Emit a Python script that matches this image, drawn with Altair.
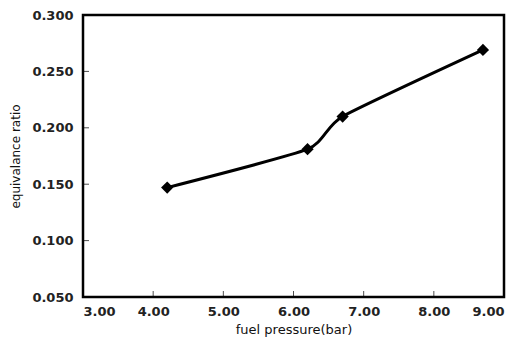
import altair as alt
import pandas as pd

pressure = [4.2, 6.2, 6.7, 8.7]
ratio = [0.147, 0.181, 0.210, 0.269]
x_ticks = [3, 4, 5, 6, 7, 8, 9]
y_ticks = [0.05, 0.10, 0.15, 0.20, 0.25, 0.30]

df = pd.DataFrame({"p": pressure, "r": ratio})
xt = pd.DataFrame({"v": x_ticks})
yt = pd.DataFrame({"v": y_ticks})

W, H = 421, 282
xs = alt.Scale(domain=[3, 9], nice=False, zero=False)
ys = alt.Scale(domain=[0.05, 0.30], nice=False, zero=False)

xaxis = alt.Axis(title="fuel pressure(bar)", values=x_ticks, format=".2f", grid=False,
                 ticks=False, domain=False, labelPadding=8, titlePadding=5,
                 labelFont="DejaVu Sans", labelFontSize=13, labelFontWeight="bold", labelColor="#222",
                 titleFont="DejaVu Sans", titleFontSize=13, titleFontWeight="normal",
                 titleColor="#111")
yaxis = alt.Axis(title="equivalance ratio", values=y_ticks, format=".3f", grid=False,
                 ticks=False, domain=False, labelPadding=10, titlePadding=9,
                 labelFont="DejaVu Sans", labelFontSize=13, labelFontWeight="bold", labelColor="#222",
                 titleFont="DejaVu Sans", titleFontSize=12, titleFontWeight="normal",
                 titleColor="#111")

line = alt.Chart(df).mark_line(interpolate="cardinal", tension=0.45, color="black", strokeWidth=3).encode(
    x=alt.X("p:Q", scale=xs, axis=xaxis),
    y=alt.Y("r:Q", scale=ys, axis=yaxis),
)
pts = alt.Chart(df).mark_point(shape="diamond", filled=True, color="black", size=150, opacity=1).encode(
    x=alt.X("p:Q", scale=xs),
    y=alt.Y("r:Q", scale=ys),
)
xtick = alt.Chart(xt).mark_tick(color="black", thickness=1, size=6, yOffset=-3).encode(
    x=alt.X("v:Q", scale=xs), y=alt.value(H)
)
ytick = alt.Chart(yt).mark_tick(color="black", thickness=1, size=6, xOffset=3, orient="horizontal").encode(
    y=alt.Y("v:Q", scale=ys), x=alt.value(0)
)

chart = alt.layer(xtick, ytick, line, pts).properties(
    width=W, height=H,
    autosize=alt.AutoSizeParams(type="none"),
    padding={"left": 83, "top": 15, "right": 15, "bottom": 55},
    background="white",
).configure_view(stroke="black", strokeWidth=2.5)

chart.save("out.html", embed_options={"renderer": "svg", "actions": False})
